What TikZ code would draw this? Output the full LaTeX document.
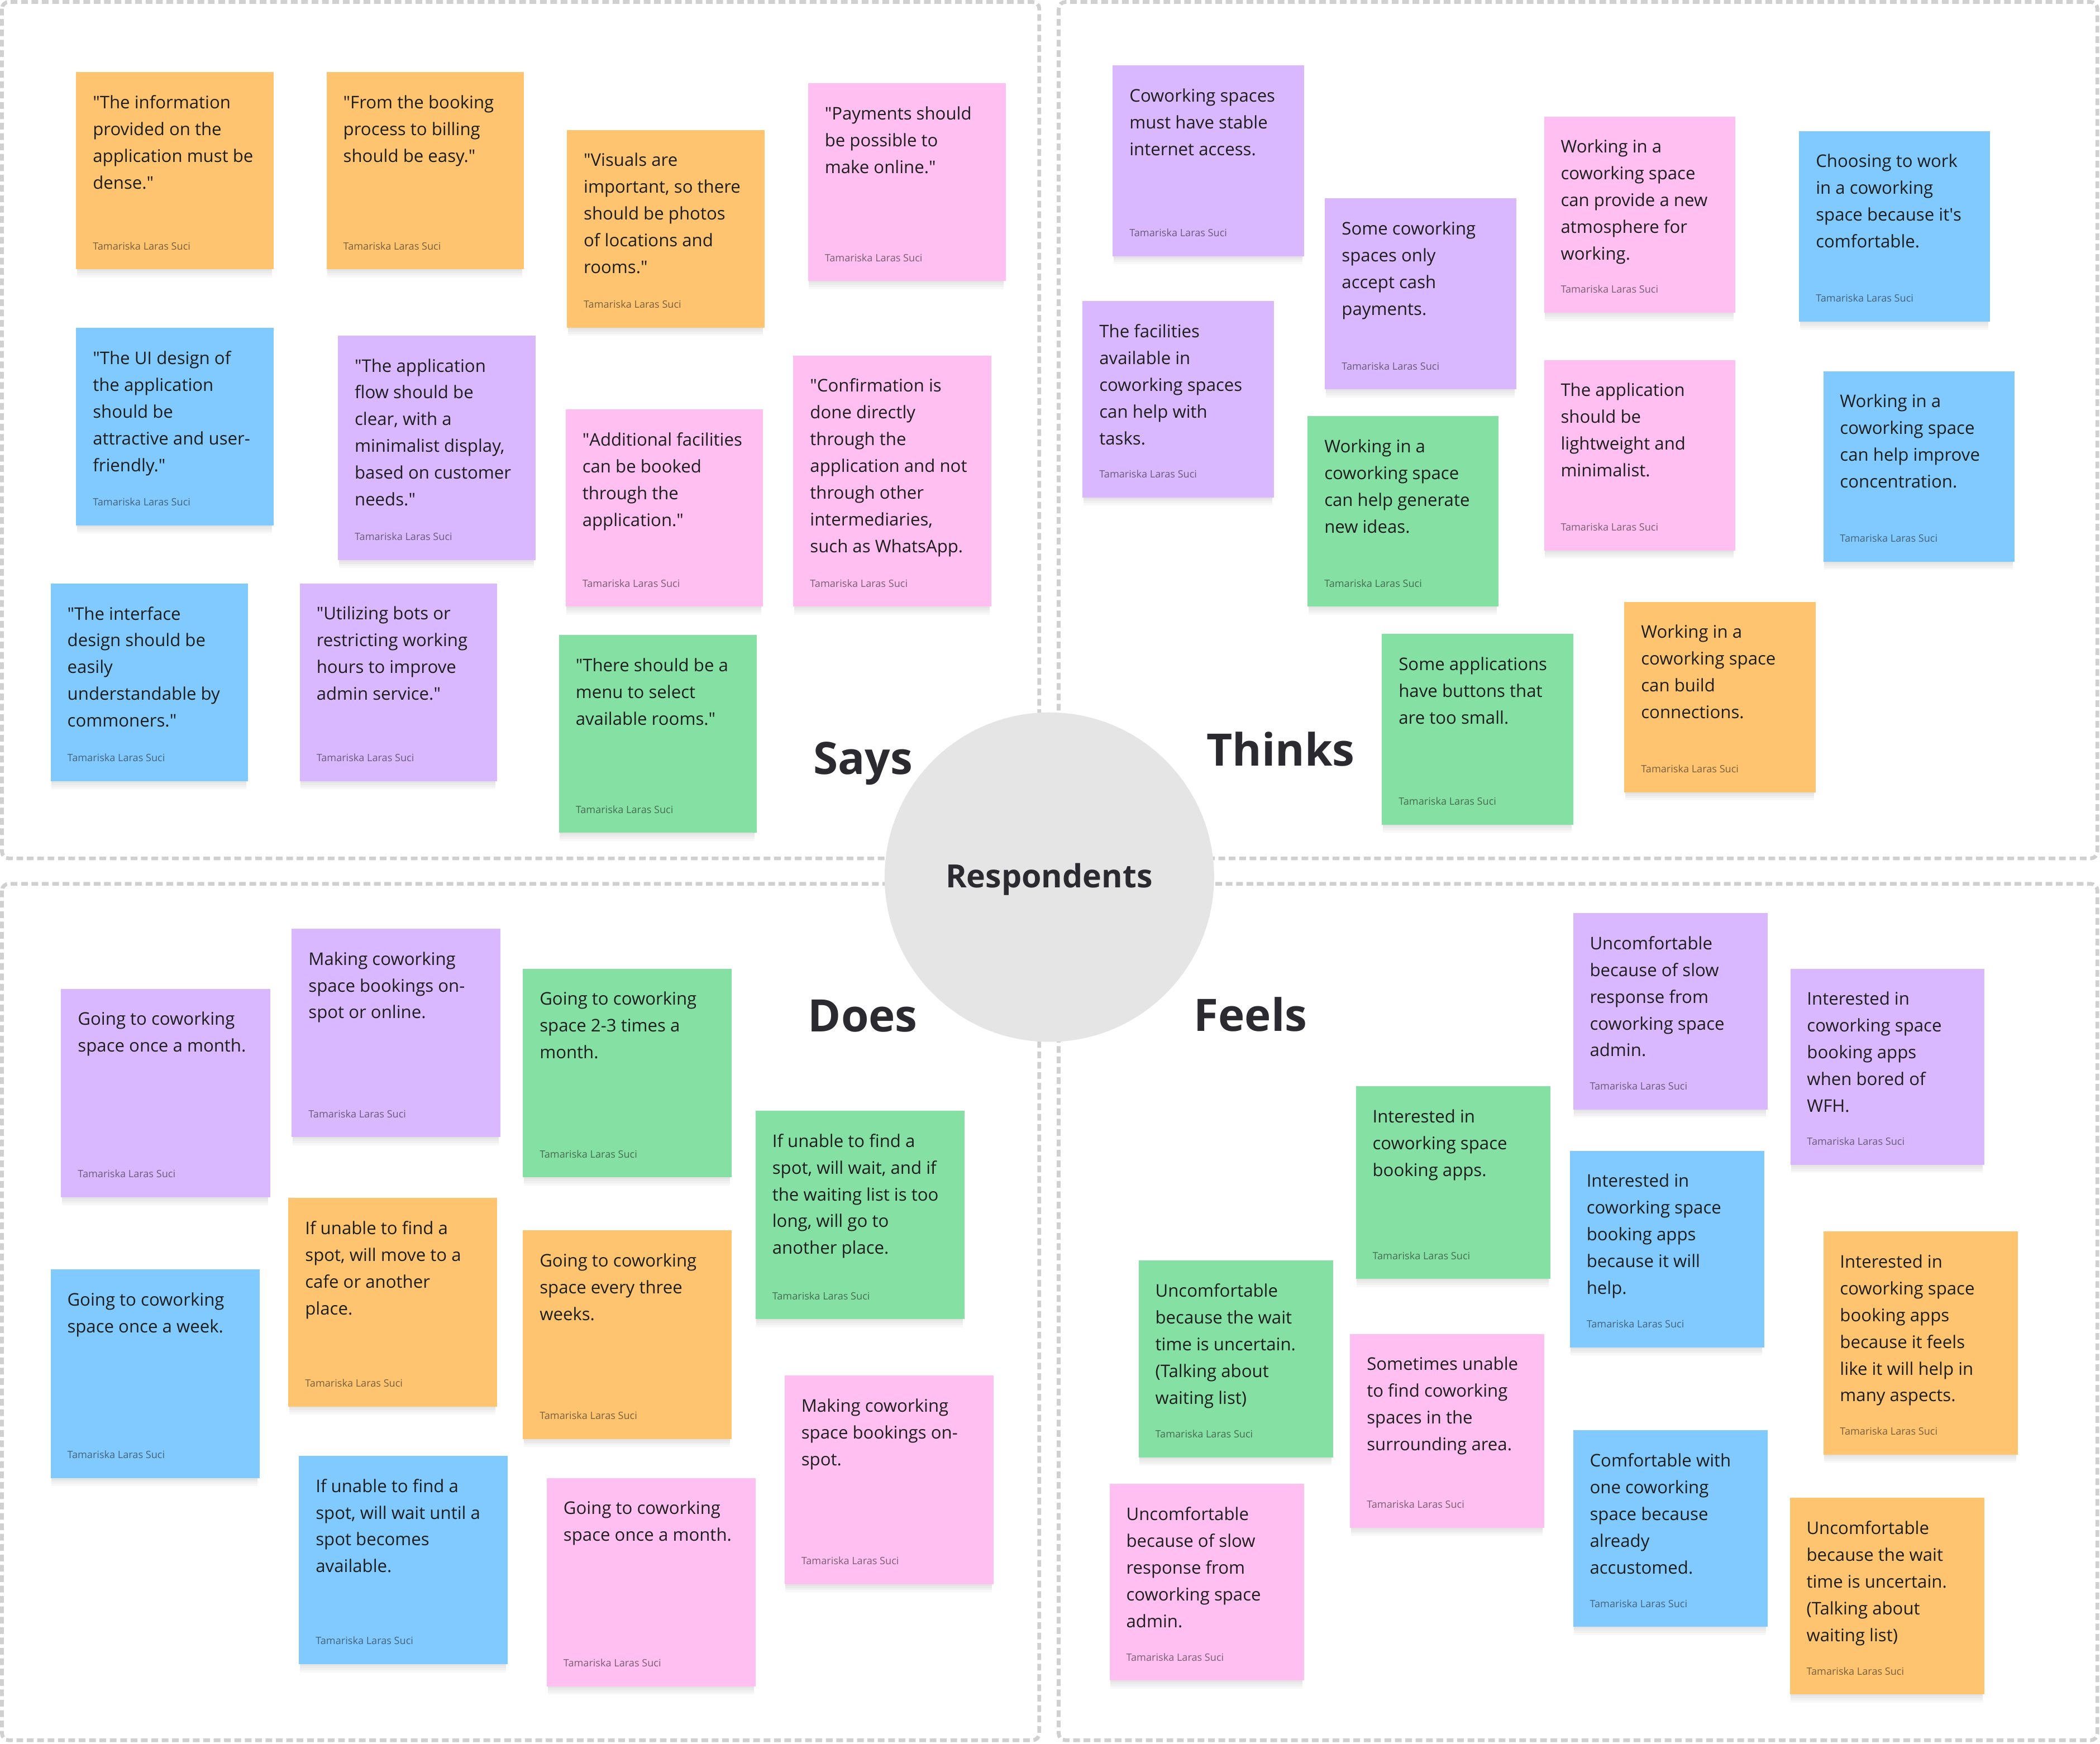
\documentclass[tikz,border=0pt]{standalone}
\usepackage{fontspec}
\setmainfont{Open Sans}
\usetikzlibrary{calc}
\definecolor{cOrange}{HTML}{FFC470}
\definecolor{cPink}{HTML}{FFBFF0}
\definecolor{cPurple}{HTML}{D9B8FF}
\definecolor{cBlue}{HTML}{80CAFF}
\definecolor{cGreen}{HTML}{85E0A3}
\definecolor{cText}{HTML}{1E1E1E}
\definecolor{cTitle}{HTML}{2C2A31}
\definecolor{cDash}{HTML}{D0D0D0}
\definecolor{cCircle}{HTML}{E5E5E5}
\newcommand{\qq}{\XeTeXglyph\XeTeXcharglyph"22\relax}
\newcommand{\ap}{\XeTeXglyph\XeTeXcharglyph"27\relax}
\tikzset{
  note/.style={rectangle, inner sep=0pt, draw=none, anchor=north west},
  notetext/.style={inner sep=0pt, align=left, text=cText, anchor=north west,
    font=\fontsize{7.4}{11.38}\selectfont},
  author/.style={inner sep=0pt, text=cText, text opacity=0.6, anchor=base west,
    font=\fontsize{4.3}{5.2}\selectfont},
  title/.style={inner sep=0pt, text=cTitle, anchor=base west,
    font=\fontsize{19}{22}\selectfont\bfseries},
  frame/.style={draw=cDash, line width=1.6pt, dash pattern=on 0.1cm off 0.055cm,
    rounded corners=0.1cm},
}
% #1 name, #2 left, #3 top, #4 width, #5 height, #6 colour, #7 text
\newcommand{\sticky}[7]{%
  \foreach \k in {1,...,4}{%
    \fill[black,opacity=0.028] (#2+1,#3+3) rectangle (#2+#4-1,#3+#5+\k*1.6);}
  \node[note, fill=#6, minimum width={#4*0.02cm}, minimum height={#5*0.02cm}] (#1) at (#2,#3) {};
  \node[notetext] (#1t) at ($(#1.north west)+(12.5,17.3)$) {#7};
  \node[author] (#1a) at ($(#1.south west)+(12.5,-15)$) {Tamariska Laras Suci};
}
\begin{document}
\begin{tikzpicture}[x=0.02cm,y=-0.02cm]
\fill[white] (0,0) rectangle (1568,1302);
\useasboundingbox (0,0) rectangle (1568,1302);
% quadrant frames
\draw[frame] (1.5,1.5) rectangle (776,641);
\draw[frame] (790.5,1.5) rectangle (1566,641);
\draw[frame] (1.5,660) rectangle (776,1299.5);
\draw[frame] (790.5,660) rectangle (1566,1299.5);
% centre
\node[circle, fill=cCircle, inner sep=0pt, minimum size={246*0.02cm}] (resp) at (783.5,655) {};
\node[inner sep=0pt, text=cTitle, font=\fontsize{13.6}{16}\selectfont\bfseries, anchor=base] (resplabel) at (783.3,663) {Respondents};
\node[title] (says) at (607,578) {Says};
\node[title] (thinks) at (900.5,571.8) {Thinks};
\node[title] (does) at (603,770.6) {Does};
\node[title] (feels) at (891,770.2) {Feels};
% Says
\sticky{s1}{56.5}{53.5}{147.5}{147.3}{cOrange}{\qq The information\\provided on the\\application must be\\dense.\qq}
\sticky{s2}{243.5}{53.5}{147.5}{147.3}{cOrange}{\qq From the booking\\process to billing\\should be easy.\qq}
\sticky{s3}{423}{96.7}{147.5}{147.7}{cOrange}{\qq Visuals are\\important, so there\\should be photos\\of locations and\\rooms.\qq}
\sticky{s4}{603}{61.8}{147.5}{147.7}{cPink}{\qq Payments should\\be possible to\\make online.\qq}
\sticky{s5}{56.5}{244.4}{147.5}{147.6}{cBlue}{\qq The UI design of\\the application\\should be\\attractive and user-\\friendly.\qq}
\sticky{s6}{252}{250.2}{147.5}{167.6}{cPurple}{\qq The application\\flow should be\\clear, with a\\minimalist display,\\based on customer\\needs.\qq}
\sticky{s7}{422}{305.4}{147.5}{147.3}{cPink}{\qq Additional facilities\\can be booked\\through the\\application.\qq}
\sticky{s8}{592}{265.1}{148}{187.6}{cPink}{\qq Confirmation is\\done directly\\through the\\application and not\\through other\\intermediaries,\\such as WhatsApp.}
\sticky{s9}{37.5}{435.3}{147.5}{147.7}{cBlue}{\qq The interface\\design should be\\easily\\understandable by\\commoners.\qq}
\sticky{s10}{223.5}{435.3}{147.5}{147.7}{cPurple}{\qq Utilizing bots or\\restricting working\\hours to improve\\admin service.\qq}
\sticky{s11}{417}{473.9}{147.5}{147.7}{cGreen}{\qq There should be a\\menu to select\\available rooms.\qq}
% Thinks
\sticky{t1}{830.5}{48.5}{143}{142.4}{cPurple}{Coworking spaces\\must have stable\\internet access.}
\sticky{t2}{989}{147.7}{143}{142.8}{cPurple}{Some coworking\\spaces only\\accept cash\\payments.}
\sticky{t3}{1152.5}{86.7}{143}{146.5}{cPink}{Working in a\\coworking space\\can provide a new\\atmosphere for\\working.}
\sticky{t4}{1343}{97.5}{142.5}{142.3}{cBlue}{Choosing to work\\in a coworking\\space because it\ap s\\comfortable.}
\sticky{t5}{808}{224.5}{143}{146.5}{cPurple}{The facilities\\available in\\coworking spaces\\can help with\\tasks.}
\sticky{t6}{976}{310.4}{142.5}{142.3}{cGreen}{Working in a\\coworking space\\can help generate\\new ideas.}
\sticky{t7}{1152.5}{268.5}{143}{142.3}{cPink}{The application\\should be\\lightweight and\\minimalist.}
\sticky{t8}{1361}{276.8}{143}{142.3}{cBlue}{Working in a\\coworking space\\can help improve\\concentration.}
\sticky{t9}{1031.5}{473}{143}{142.4}{cGreen}{Some applications\\have buttons that\\are too small.}
\sticky{t10}{1212.5}{449}{143}{142.3}{cOrange}{Working in a\\coworking space\\can build\\connections.}
% Does
\sticky{d1}{45.3}{738}{156}{155.7}{cPurple}{Going to coworking\\space once a month.}
\sticky{d2}{217.5}{693.1}{156}{155.7}{cPurple}{Making coworking\\space bookings on-\\spot or online.}
\sticky{d3}{390.1}{723}{156}{155.8}{cGreen}{Going to coworking\\space 2-3 times a\\month.}
\sticky{d4}{563.8}{829}{156}{155.8}{cGreen}{If unable to find a\\spot, will wait, and if\\the waiting list is too\\long, will go to\\another place.}
\sticky{d5}{37.4}{947.5}{156}{155.8}{cBlue}{Going to coworking\\space once a week.}
\sticky{d6}{215}{894.1}{156}{155.8}{cOrange}{If unable to find a\\spot, will move to a\\cafe or another\\place.}
\sticky{d7}{390.1}{918.4}{156}{155.8}{cOrange}{Going to coworking\\space every three\\weeks.}
\sticky{d8}{585.5}{1026.8}{156}{155.8}{cPink}{Making coworking\\space bookings on-\\spot.}
\sticky{d9}{222.9}{1086.7}{156}{155.7}{cBlue}{If unable to find a\\spot, will wait until a\\spot becomes\\available.}
\sticky{d10}{407.9}{1103.3}{156}{155.7}{cPink}{Going to coworking\\space once a month.}
% Feels
\sticky{f1}{1174.2}{681.4}{145.4}{146.8}{cPurple}{Uncomfortable\\because of slow\\response from\\coworking space\\admin.}
\sticky{f2}{1336.4}{723}{145}{146.5}{cPurple}{Interested in\\coworking space\\booking apps\\when bored of\\WFH.}
\sticky{f3}{1012}{810.8}{145.4}{144}{cGreen}{Interested in\\coworking space\\booking apps.}
\sticky{f4}{1171.8}{859}{145}{146.8}{cBlue}{Interested in\\coworking space\\booking apps\\because it will\\help.}
\sticky{f5}{849.8}{941}{145.4}{147}{cGreen}{Uncomfortable\\because the wait\\time is uncertain.\\(Talking about\\waiting list)}
\sticky{f6}{1007.7}{995.7}{145}{144.8}{cPink}{Sometimes unable\\to find coworking\\spaces in the\\surrounding area.}
\sticky{f7}{1361}{919.2}{145.4}{166.7}{cOrange}{Interested in\\coworking space\\booking apps\\because it feels\\like it will help in\\many aspects.}
\sticky{f8}{828.1}{1107.7}{145.4}{146.9}{cPink}{Uncomfortable\\because of slow\\response from\\coworking space\\admin.}
\sticky{f9}{1174.2}{1067.7}{145.4}{146.8}{cBlue}{Comfortable with\\one coworking\\space because\\already\\accustomed.}
\sticky{f10}{1336}{1118.2}{145.3}{146.8}{cOrange}{Uncomfortable\\because the wait\\time is uncertain.\\(Talking about\\waiting list)}
\end{tikzpicture}
\end{document}
